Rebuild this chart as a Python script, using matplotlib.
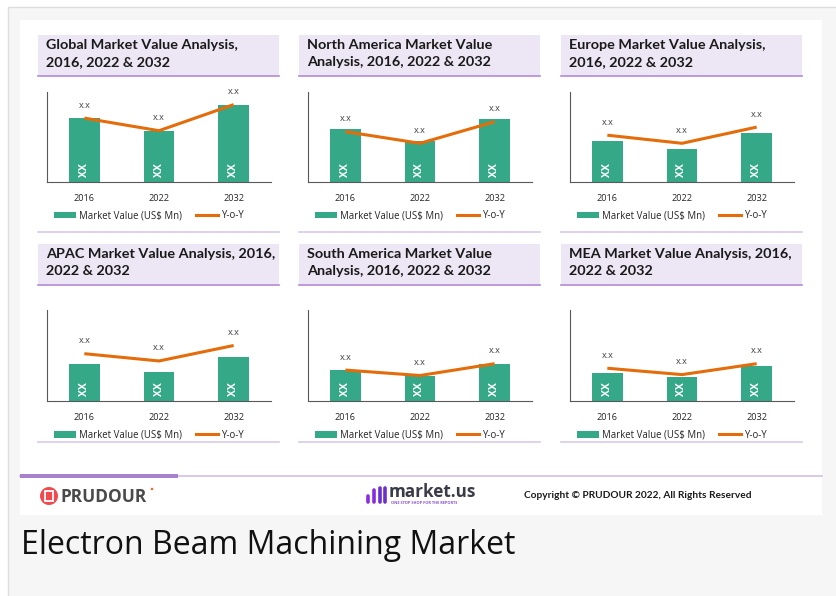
import matplotlib
matplotlib.use('Agg')
import matplotlib.pyplot as plt
from matplotlib.patches import Rectangle, Ellipse, Patch
from matplotlib.lines import Line2D

W, H = 836, 596

# data (arbitrary units - values are placeholders "XX"/"x.x")
years = ['2016', '2022', '2032']
titles = [
    'Global Market Value Analysis,\n2016, 2022 & 2032',
    'North America Market Value\nAnalysis, 2016, 2022 & 2032',
    'Europe Market Value Analysis,\n2016, 2022 & 2032',
    'APAC Market Value Analysis, 2016,\n2022 & 2032',
    'South America Market Value\nAnalysis, 2016, 2022 & 2032',
    'MEA Market Value Analysis, 2016,\n2022 & 2032',
]
global_value = [71, 57, 86]
global_yoy = [71, 57, 86]
na_value = [59, 46, 70]
na_yoy = [56, 43, 67]
europe_value = [46, 37, 54]
europe_yoy = [52, 43, 61]
apac_value = [41, 32, 48]
apac_yoy = [52, 44, 61]
sa_value = [34, 27, 41]
sa_yoy = [34, 28, 41]
mea_value = [31, 26, 38]
mea_yoy = [36, 29, 41]
bar_labels = ['XX', 'XX', 'XX']
yoy_labels = ['x.x', 'x.x', 'x.x']

values = [global_value, na_value, europe_value, apac_value, sa_value, mea_value]
yoys = [global_yoy, na_yoy, europe_yoy, apac_yoy, sa_yoy, mea_yoy]

GREEN = '#35a987'
ORANGE = '#e46c0a'


def fx(x):
    return x / W


def fy(y):
    return 1 - y / H


def rect(fig, x0, y0, x1, y1, **kw):
    fig.add_artist(Rectangle((fx(x0), fy(y1)), (x1 - x0) / W, (y1 - y0) / H,
                             transform=fig.transFigure, **kw))


def dot(fig, x, y, r, color, z=3):
    fig.add_artist(Ellipse((fx(x), fy(y)), 2 * r / W, 2 * r / H, transform=fig.transFigure,
                           facecolor=color, edgecolor='none', zorder=z))


def hline(fig, x0, x1, y, color, lw, z=2):
    fig.add_artist(Line2D([fx(x0), fx(x1)], [fy(y), fy(y)], transform=fig.transFigure,
                          color=color, lw=lw, zorder=z))


def main():
    fig = plt.figure(figsize=(W / 100, H / 100), dpi=100)
    fig.patch.set_facecolor('white')

    # page background and white card
    rect(fig, 8, 7, 840, 600, facecolor='#f6f6f6', edgecolor='#dddddd', lw=1, zorder=-10)
    rect(fig, 20, 20, 822, 515, facecolor='white', edgecolor='none', zorder=-9)

    box_lefts = [38, 299, 561]
    box_tops = [35, 244]
    ax_tops = [92, 310]
    ax_bottoms = [182, 401]
    end_lines = [232, 442]

    for i in range(6):
        r, c = divmod(i, 3)
        bx, by = box_lefts[c], box_tops[r]
        rect(fig, bx, by, bx + 241, by + 41, facecolor='#ede6f4', edgecolor='none', zorder=1)
        hline(fig, bx, bx + 241, by + 41, '#b48ad6', 1.2)
        l1, l2 = titles[i].split('\n')
        fig.text(fx(bx + 8), fy(by + 10), l1, fontsize=10.4, fontweight='bold',
                 family='Lato', color='#1a1a1a', va='center')
        fig.text(fx(bx + 8), fy(by + 27), l2, fontsize=10.4, fontweight='bold',
                 family='Lato', color='#1a1a1a', va='center')
        hline(fig, bx, bx + 241, end_lines[r], '#d9cbe9', 1.2)

        at, ab = ax_tops[r], ax_bottoms[r]
        ax = fig.add_axes([fx(bx + 9), fy(ab), 224 / W, (ab - at) / H])
        ax.patch.set_alpha(0)
        x = range(len(years))
        ax.bar(x, values[i], width=0.41, color=GREEN, zorder=2)
        ax.plot(x, yoys[i], color=ORANGE, lw=2.2, zorder=3, solid_capstyle='butt')
        for k in x:
            ax.annotate(yoy_labels[k], (k, yoys[i][k]), xytext=(0, 9.4), textcoords='offset points',
                        ha='center', va='center', fontsize=6.5, family='Open Sans', color='#404040')
            ax.annotate(bar_labels[k], (k, 0), xytext=(0, 8.6), textcoords='offset points',
                        ha='center', va='center', fontsize=7.5, fontweight='bold', rotation=90,
                        family='Open Sans', color='white', zorder=4)
        ax.set_xlim(-0.5, 2.5)
        ax.set_ylim(0, 100)
        ax.set_xticks(list(x))
        ax.set_xticklabels(years, fontsize=6.6, family='Open Sans', color='#262626')
        ax.tick_params(axis='x', length=0, pad=8.5)
        ax.set_yticks([])
        for s in ['top', 'right']:
            ax.spines[s].set_visible(False)
        for s in ['left', 'bottom']:
            ax.spines[s].set_color('#595959')
            ax.spines[s].set_linewidth(0.8)

        handles = [Patch(facecolor=GREEN, edgecolor='none', label='Market Value (US$ Mn)'),
                   Line2D([0], [0], color=ORANGE, lw=2.2, label='Y-o-Y')]
        leg = ax.legend(handles=handles, loc='center', ncol=2, frameon=False,
                        bbox_to_anchor=(0.455, -34 / (ab - at)),
                        prop={'family': 'Open Sans', 'size': 6.9},
                        handlelength=2.3, handleheight=0.7, handletextpad=0.3,
                        columnspacing=1.4, borderpad=0, borderaxespad=0)
        for t in leg.get_texts():
            t.set_color('#262626')

    # footer bar
    hline(fig, 20, 822, 476, '#d4bfe6', 1.2)
    rect(fig, 20, 473.5, 178, 477.5, facecolor='#a883cc', edgecolor='none', zorder=3)

    # PRUDOUR logo
    dot(fig, 49, 496, 9, '#f04a4f')
    rect(fig, 45, 491, 53, 501, facecolor='none', edgecolor='white', lw=1.3, zorder=4)
    fig.text(fx(60), fy(497), 'PRUDOUR', fontsize=12.5, fontweight='bold', family='Open Sans',
             color='#4a4a4a', va='center')
    dot(fig, 152, 489, 1.3, '#f26b3a')

    # market.us logo
    for k, (x0, h) in enumerate([(368, 6), (374, 12), (380, 14), (385, 14)]):
        fig.add_artist(Line2D([fx(x0), fx(x0)], [fy(502), fy(502 - h)], transform=fig.transFigure,
                              color='#8a2be2' if k < 2 else '#6b2fd0', lw=2.6,
                              solid_capstyle='round', zorder=3))
    fig.text(fx(389), fy(492), 'market.us', fontsize=12.3, fontweight='bold', family='Open Sans',
             color='#3a3a48', va='center')
    fig.text(fx(391), fy(503), 'ONE STOP SHOP FOR THE REPORTS', fontsize=2.8, fontweight='bold',
             family='Open Sans', color='#8a4fd0', va='center')

    fig.text(fx(524), fy(496), 'Copyright \u00a9 PRUDOUR 2022, All Rights Reserved', fontsize=7.25,
             fontweight='bold', family='Lato', color='#1a1a1a', va='center')

    fig.text(fx(21), fy(545), 'Electron Beam Machining Market', fontsize=23, family='Open Sans',
             color='#111111', va='center')

    fig.savefig('out.png', dpi=100)


if __name__ == "__main__":
    main()
